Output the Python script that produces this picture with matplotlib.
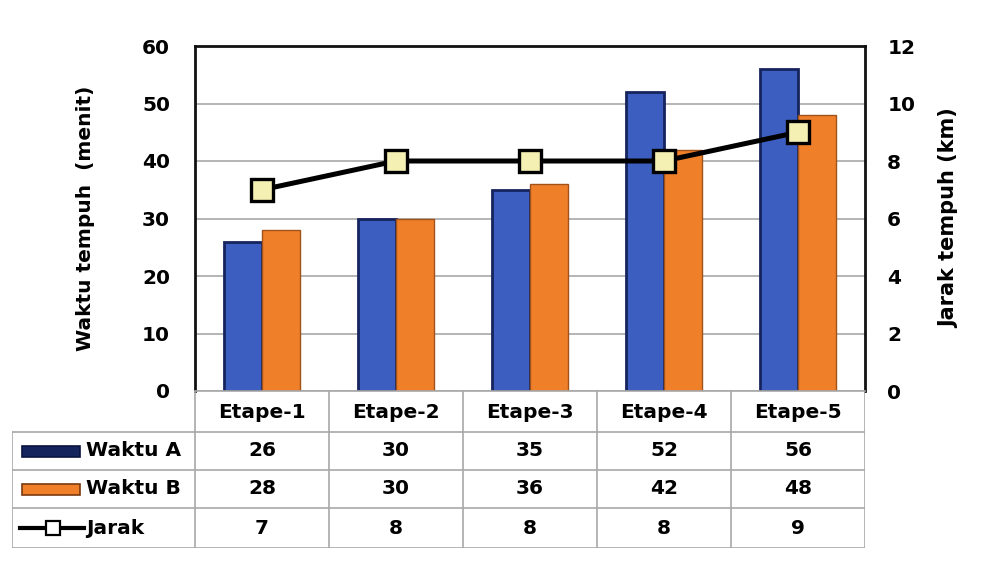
import matplotlib.pyplot as plt
import numpy as np
from matplotlib.patches import Rectangle
from matplotlib.lines import Line2D

plt.rcParams['font.family'] = ['DejaVu Sans']
plt.rcParams['font.weight'] = 'bold'

etape = ['Etape-1', 'Etape-2', 'Etape-3', 'Etape-4', 'Etape-5']
waktu_a = [26, 30, 35, 52, 56]
waktu_b = [28, 30, 36, 42, 48]
jarak = [7, 8, 8, 8, 9]
row_labels = ['Waktu A', 'Waktu B', 'Jarak']

blue = '#3b5ec0'
blue_edge = '#16245e'
orange = '#f07f2a'
orange_edge = '#a0521a'
grid_c = '#a8a8a8'
fs = 14.5

W, H = 1004, 564
fig = plt.figure(figsize=(W / 100, H / 100), dpi=100)

# main plot area (pixel coords from the reference)
x0, x1, y_top, y_bot = 195, 865, 46, 391
ax = fig.add_axes([x0 / W, 1 - y_bot / H, (x1 - x0) / W, (y_bot - y_top) / H])
x = np.arange(len(etape))
bw = 0.28
ax.bar(x - bw / 2, waktu_a, bw, color=blue, edgecolor=blue_edge, linewidth=2, zorder=2)
ax.bar(x + bw / 2, waktu_b, bw, color=orange, edgecolor=orange_edge, linewidth=1.0, zorder=2)
ax.set_xlim(-0.5, len(etape) - 0.5)
ax.set_ylim(0, 60)
ax.set_yticks(range(0, 61, 10))
ax.set_xticks([])
ax.yaxis.grid(True, color=grid_c, linewidth=1.2)
ax.set_axisbelow(True)
ax.tick_params(axis='y', length=0, labelsize=fs, pad=18)
ax.set_ylabel('Waktu tempuh  (menit)', fontsize=fs, fontweight='bold', labelpad=34)
for s in ['left', 'top', 'right']:
    ax.spines[s].set_color('#111111')
    ax.spines[s].set_linewidth(2)
ax.spines['bottom'].set_color(grid_c)
ax.spines['bottom'].set_linewidth(1.2)

ax2 = ax.twinx()
ax2.set_ylim(0, 12)
ax2.set_yticks(range(0, 13, 2))
ax2.plot(x, jarak, color='black', linewidth=3.6, marker='s', markersize=16,
         markerfacecolor='#f4f0b4', markeredgecolor='black', markeredgewidth=2.4, zorder=3)
ax2.tick_params(axis='y', length=0, labelsize=fs, pad=16)
ax2.set_ylabel('Jarak tempuh (km)', fontsize=15, fontweight='bold', labelpad=17)
for s in ax2.spines.values():
    s.set_visible(False)

# data table under the plot
t_left, t_bot = 12, 548
tab = fig.add_axes([t_left / W, 1 - t_bot / H, (x1 - t_left) / W, (t_bot - y_bot) / H])
lab_w = (x0 - t_left) / ((x1 - x0) / len(etape))
tab.set_xlim(-0.5 - lab_w, len(etape) - 0.5)
row_edges = [0, 41, 79, 117, 157]  # header + three rows, in px from top
tab.set_ylim(row_edges[-1], 0)
tab.axis('off')

# grid lines
for yy in row_edges[1:]:
    tab.plot([-0.5 - lab_w, len(etape) - 0.5], [yy, yy], color=grid_c, lw=1.2)
for k in range(len(etape) + 1):
    tab.plot([k - 0.5, k - 0.5], [0, row_edges[-1]], color=grid_c, lw=1.2)
tab.plot([-0.5 - lab_w] * 2, [row_edges[1], row_edges[-1]], color=grid_c, lw=1.2)

ymid = [(row_edges[i] + row_edges[i + 1]) / 2 for i in range(4)]
for k, e in enumerate(etape):
    tab.text(k, ymid[0] + 1, e, ha='center', va='center', fontsize=fs)
for r, vals in enumerate([waktu_a, waktu_b, jarak]):
    for k, v in enumerate(vals):
        tab.text(k, ymid[r + 1], str(v), ha='center', va='center', fontsize=fs)

# legend keys and row labels
px = (x1 - x0) / len(etape)  # px per data unit
key_x0 = -0.5 - lab_w + 10 / px
key_w = 58 / px
tab.add_patch(Rectangle((key_x0, ymid[1] - 5), key_w, 11, facecolor=blue_edge, edgecolor='#0b1440', lw=1.2))
tab.add_patch(Rectangle((key_x0, ymid[2] - 5), key_w, 11, facecolor=orange, edgecolor='#7a3a10', lw=1.2))
tab.add_line(Line2D([key_x0 - 2 / px, key_x0 + key_w + 4 / px], [ymid[3], ymid[3]], color='black', lw=3))
tab.plot([key_x0 + key_w / 2 + 2 / px], [ymid[3]], marker='s', markersize=10,
         markerfacecolor='white', markeredgecolor='black', markeredgewidth=1.6)
for r, lab in enumerate(row_labels):
    tab.text(key_x0 + key_w + 6 / px, ymid[r + 1], lab, ha='left', va='center', fontsize=fs)

fig.savefig('out.png', dpi=100)
